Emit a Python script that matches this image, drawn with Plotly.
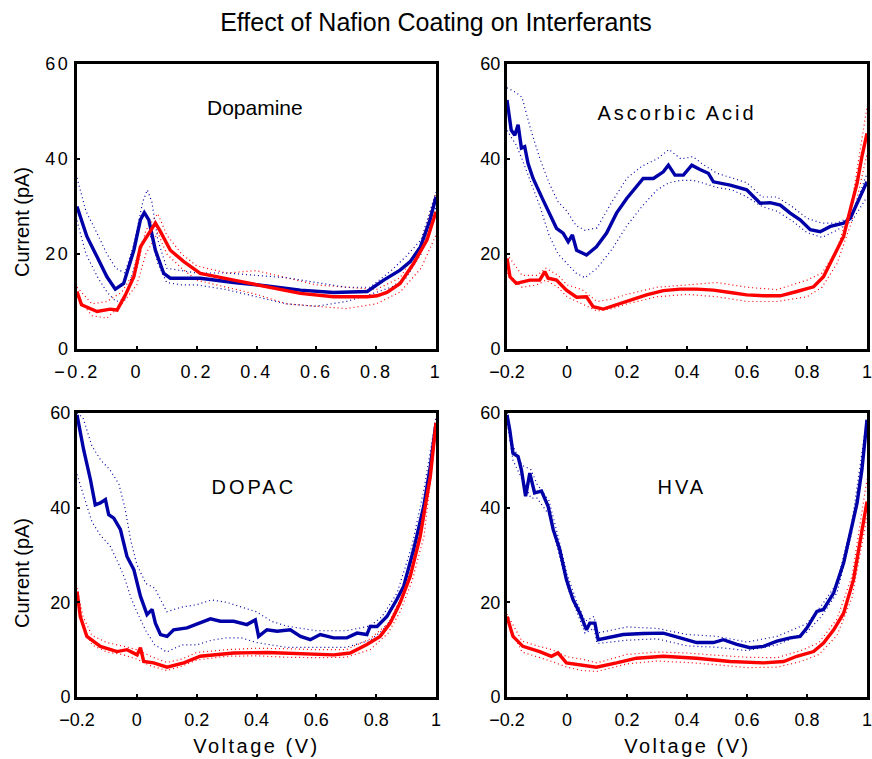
import plotly.graph_objects as go

# ---------------- data ----------------
# Dopamine
da_v_blue = [-0.2, -0.167, -0.133, -0.1, -0.072, -0.044, -0.01, 0.012, 0.025, 0.04, 0.062, 0.09, 0.112,
             0.212, 0.324, 0.435, 0.547, 0.658, 0.77, 0.825, 0.88, 0.914, 0.948, 0.98, 1.0]
da_i_blue = [30, 23.7, 19.4, 15.2, 12.6, 13.8, 20.8, 27.2, 28.7, 27.2, 20.8, 15.9, 14.9,
             14.9, 14.0, 13.3, 12.4, 11.9, 12.1, 14.5, 16.6, 18.4, 21.5, 27.2, 32]
da_v_red = [-0.2, -0.185, -0.133, -0.089, -0.066, -0.038, -0.01, 0.012, 0.034, 0.062, 0.079, 0.112, 0.157,
            0.212, 0.324, 0.435, 0.547, 0.658, 0.77, 0.803, 0.836, 0.88, 0.925, 0.97, 1.0]
da_i_red = [12.1, 9.3, 7.9, 8.4, 8.2, 11.4, 15.2, 21.5, 23.7, 26.5, 24.7, 20.8, 18.4,
            15.9, 14.5, 13.1, 11.7, 11.0, 11.0, 11.2, 11.9, 13.8, 18.0, 23.0, 28.9]
da_env_v_blue = [-0.2, -0.17, -0.13, -0.1, -0.07, -0.04, -0.01, 0.02, 0.035, 0.05, 0.07, 0.1, 0.15, 0.2,
                 0.3, 0.4, 0.5, 0.6, 0.7, 0.78, 0.85, 0.9, 0.95, 1.0]
da_blue_hi = [36, 29, 24, 20, 17, 16, 22, 31, 33.5, 31, 23, 17, 16.5, 16, 16, 15.5, 15, 14, 13, 13, 16.5, 19.5, 23, 33]
da_blue_lo = [27, 20, 15, 12, 10, 10.5, 17, 23, 24, 23.5, 18, 14, 13.5, 13.5, 12.5, 11, 9.5, 9, 10, 11.5, 13, 15, 20, 30]
da_env_v_red = [-0.2, -0.15, -0.1, -0.05, 0.0, 0.03, 0.07, 0.1, 0.15, 0.2, 0.3, 0.4, 0.5, 0.6, 0.7, 0.8,
                0.88, 0.95, 1.0]
da_red_hi = [13, 9.5, 10, 12, 17, 25, 28.5, 24, 20, 17.5, 16, 16.5, 15, 13.5, 13, 12.5, 15, 22, 33]
da_red_lo = [11, 7, 6.5, 9.5, 13.5, 20, 24.5, 20, 17, 14.5, 13, 11.5, 9.5, 9, 8.5, 9.5, 12, 17, 24]

# Ascorbic Acid
aa_v_blue = [-0.2, -0.186, -0.174, -0.163, -0.152, -0.141, -0.13, -0.113, -0.08, -0.058, -0.035, -0.013,
             0.004, 0.018, 0.032, 0.065, 0.098, 0.132, 0.165, 0.199, 0.232, 0.254, 0.288, 0.321, 0.338,
             0.36, 0.388, 0.416, 0.443, 0.471, 0.488, 0.544, 0.599, 0.644, 0.677, 0.711, 0.744, 0.777,
             0.811, 0.844, 0.878, 0.922, 0.944, 0.967, 1.0]
aa_i_blue = [52.4, 46.1, 45.0, 47.2, 42.3, 42.6, 39.1, 35.9, 31.4, 28.6, 25.4, 24.4,
             22.6, 24.0, 20.8, 19.8, 21.5, 24.4, 28.6, 31.7, 34.2, 35.9, 35.9, 37.3, 38.7,
             36.6, 36.6, 38.7, 37.8, 37.0, 35.2, 34.5, 33.5, 30.7, 30.8, 30.3, 28.6, 27.2,
             25.1, 24.7, 25.8, 26.5, 27.5, 30.7, 35.2]
aa_v_red = [-0.2, -0.19, -0.169, -0.124, -0.091, -0.074, -0.063, -0.035, -0.002, 0.032, 0.065, 0.087,
            0.121, 0.165, 0.21, 0.265, 0.321, 0.377, 0.432, 0.488, 0.544, 0.599, 0.655, 0.711, 0.766,
            0.822, 0.855, 0.889, 0.922, 0.944, 0.967, 0.983, 1.0]
aa_i_red = [19.1, 15.2, 13.8, 14.5, 14.5, 16.3, 14.9, 14.5, 12.4, 10.9, 11.0, 8.9,
            8.4, 9.3, 10.3, 11.4, 12.3, 12.6, 12.6, 12.4, 11.9, 11.4, 11.2, 11.2, 12.1,
            13.1, 15.2, 19.4, 23.7, 29.3, 34.9, 40.5, 45.4]
aa_env_v_blue = [-0.2, -0.17, -0.15, -0.12, -0.09, -0.06, -0.03, 0.0, 0.03, 0.06, 0.1, 0.15, 0.2, 0.25,
                 0.3, 0.34, 0.38, 0.42, 0.45, 0.5, 0.55, 0.6, 0.65, 0.7, 0.75, 0.8, 0.85, 0.9, 0.95, 1.0]
aa_blue_hi = [55, 54, 53, 46, 40, 35, 31, 29, 26, 25, 25.5, 31, 36, 38.5, 40, 42, 40, 40.5, 39, 37, 36, 35,
              32, 32, 30, 27.5, 26.5, 26.5, 28, 37]
aa_blue_lo = [46, 43, 40, 35, 30, 24, 20, 18, 16, 15, 17, 21, 26, 30, 33.5, 35, 35.5, 35.5, 35, 34, 33.5, 32,
              30, 29, 27, 24.5, 23.5, 25, 27, 32]
aa_env_v_red = [-0.2, -0.15, -0.1, -0.07, -0.03, 0.0, 0.05, 0.1, 0.15, 0.2, 0.3, 0.4, 0.5, 0.6, 0.7, 0.8,
                0.85, 0.9, 0.95, 1.0]
aa_red_hi = [20, 15.5, 15.5, 17, 15.5, 13.5, 12.5, 10, 10.5, 11.5, 13, 13.5, 14, 13, 12.5, 14.5, 16, 21, 31, 51]
aa_red_lo = [16, 13, 13.5, 14.5, 13, 11, 9.5, 8, 8.5, 9.5, 11, 11.5, 11, 10, 10, 11, 13, 18, 27, 41]

# DOPAC
dp_v_blue = [-0.2, -0.178, -0.155, -0.139, -0.122, -0.105, -0.094, -0.077, -0.055, -0.033, -0.01, 0.012,
             0.034, 0.051, 0.062, 0.079, 0.101, 0.123, 0.168, 0.212, 0.246, 0.279, 0.324, 0.368, 0.396,
             0.407, 0.435, 0.469, 0.513, 0.547, 0.58, 0.613, 0.658, 0.702, 0.736, 0.769, 0.78, 0.803,
             0.836, 0.869, 0.892, 0.925, 0.959, 0.981, 1.0]
dp_i_blue = [59.6, 52.3, 45.9, 40.6, 41.0, 41.7, 38.5, 37.8, 35.4, 29.7, 26.9, 21.3,
             17.4, 18.5, 15.6, 13.2, 12.8, 14.2, 14.6, 15.6, 16.5, 16.0, 16.0, 15.3, 16.3,
             12.8, 14.2, 13.9, 14.2, 12.8, 12.1, 13.2, 12.5, 12.5, 13.5, 13.2, 14.9, 14.9,
             17.0, 20.6, 23.4, 31.1, 40.3, 48.7, 57.9]
dp_v_red = [-0.2, -0.189, -0.167, -0.122, -0.066, -0.033, 0.001, 0.012, 0.023, 0.056, 0.101, 0.157,
            0.212, 0.268, 0.324, 0.435, 0.547, 0.658, 0.713, 0.769, 0.813, 0.847, 0.88, 0.914, 0.947,
            0.981, 1.0]
dp_i_red = [22.3, 17.0, 12.8, 10.7, 9.6, 10.0, 8.9, 10.4, 7.5, 7.2, 6.3, 7.2,
            8.6, 8.9, 9.3, 9.4, 9.1, 8.9, 9.3, 11.1, 12.8, 15.6, 19.9, 25.5, 33.9,
            46.6, 57.9]
dp_env_v_blue = [-0.2, -0.18, -0.15, -0.12, -0.09, -0.06, -0.04, -0.02, 0.0, 0.03, 0.06, 0.1, 0.15, 0.2,
                 0.25, 0.3, 0.35, 0.4, 0.45, 0.5, 0.55, 0.6, 0.7, 0.78, 0.82, 0.87, 0.92, 0.96, 1.0]
dp_blue_hi = [60, 59, 53, 50, 48, 45, 40, 33, 28, 24, 23, 18, 19, 19.5, 20.5, 20, 19, 18, 16, 15, 14.5, 14,
              14, 15, 17, 22, 32, 44, 59]
dp_blue_lo = [47, 43, 37, 34, 32, 28, 25, 21, 18, 14, 11, 9.5, 11, 11, 12, 12.5, 12.5, 11.5, 11, 10.5, 10.5,
              10.5, 10.5, 12, 14, 18, 27, 38, 56]
dp_env_v_red = [-0.2, -0.18, -0.15, -0.1, -0.05, 0.0, 0.05, 0.1, 0.15, 0.2, 0.3, 0.4, 0.5, 0.6, 0.7, 0.78,
                0.84, 0.88, 0.92, 0.96, 1.0]
dp_red_hi = [23, 17, 13, 11.5, 10.8, 10, 8.5, 7.3, 8, 9.4, 10, 10.3, 10.2, 10, 10, 12.3, 15.5, 20.5, 27.5, 38, 59]
dp_red_lo = [21, 15, 11, 9.5, 9, 8, 6.5, 5.6, 6.5, 7.8, 8.6, 8.7, 8.4, 8.3, 8.4, 10, 13.5, 18, 24.5, 34, 56]

# HVA
hv_v_blue = [-0.2, -0.191, -0.18, -0.163, -0.152, -0.138, -0.124, -0.108, -0.085, -0.063, -0.046, -0.024,
             -0.002, 0.02, 0.043, 0.065, 0.076, 0.093, 0.104, 0.132, 0.187, 0.254, 0.321, 0.377, 0.432,
             0.488, 0.521, 0.566, 0.61, 0.655, 0.7, 0.744, 0.777, 0.8, 0.833, 0.855, 0.889, 0.922,
             0.944, 0.967, 0.983, 1.0]
hv_i_blue = [59.6, 56.5, 51.5, 50.8, 48.0, 42.4, 47.3, 43.1, 43.5, 40.3, 35.4, 31.1,
             24.8, 20.6, 17.7, 14.2, 15.6, 15.6, 12.1, 12.5, 13.2, 13.4, 13.5, 12.5, 11.5,
             11.5, 12.1, 11.1, 10.4, 10.7, 11.8, 12.5, 12.8, 14.6, 18.1, 18.5, 22.0, 28.3,
             34.6, 41.0, 48.0, 58.6]
hv_v_red = [-0.2, -0.18, -0.147, -0.091, -0.052, -0.03, -0.002, 0.043, 0.098, 0.165, 0.232, 0.321,
            0.432, 0.544, 0.655, 0.722, 0.766, 0.822, 0.855, 0.889, 0.922, 0.955, 0.978, 1.0]
hv_i_red = [17.0, 12.8, 10.7, 9.6, 8.6, 9.3, 7.2, 6.8, 6.3, 7.2, 8.2, 8.6,
            8.2, 7.5, 7.2, 7.5, 8.6, 9.6, 11.4, 14.2, 17.7, 24.8, 33.2, 41.3]
hv_env_v_blue = [-0.2, -0.18, -0.15, -0.12, -0.1, -0.06, -0.03, 0.0, 0.03, 0.06, 0.09, 0.1, 0.2, 0.3, 0.4,
                 0.5, 0.6, 0.7, 0.8, 0.85, 0.9, 0.95, 1.0]
hv_blue_hi = [60, 53, 49, 48, 45, 41.5, 34, 26, 20.5, 16, 17, 13.5, 14.8, 14.5, 13.2, 12.8, 11.6, 12.8, 15.5,
              19.5, 24, 37, 59]
hv_blue_lo = [58.5, 50, 46, 42, 42, 38.5, 31, 23.5, 18.5, 13.5, 14.5, 11.3, 12, 12.3, 10.8, 10.5, 9.8, 11,
              13.7, 17.2, 22, 35, 58]
hv_env_v_red = [-0.2, -0.15, -0.1, -0.05, 0.0, 0.05, 0.1, 0.2, 0.3, 0.4, 0.5, 0.6, 0.7, 0.78, 0.84, 0.9,
                0.95, 1.0]
hv_red_hi = [17.5, 11.8, 10.8, 10, 8.5, 8, 7.2, 9, 9.5, 9.3, 8.8, 8.4, 8.3, 9.8, 11.5, 16.5, 25.5, 46]
hv_red_lo = [16, 9.5, 8.5, 7.5, 6.3, 5.6, 5.4, 7, 7.6, 7.3, 6.8, 6.2, 6.3, 7.5, 9, 13, 21, 38]

panel_names = ["Dopamine", "Ascorbic Acid", "DOPAC", "HVA"]
x_ticks = [-0.2, 0, 0.2, 0.4, 0.6, 0.8, 1]
x_tick_text = ["\u22120.2", "0", "0.2", "0.4", "0.6", "0.8", "1"]
y_ticks = [0, 20, 40, 60]
x_title = "Voltage (V)"
y_title = "Current (pA)"
main_title = "Effect of Nafion Coating on Interferants"

panels = [
    (da_v_blue, da_i_blue, da_v_red, da_i_red, da_env_v_blue, da_blue_hi, da_blue_lo, da_env_v_red, da_red_hi, da_red_lo),
    (aa_v_blue, aa_i_blue, aa_v_red, aa_i_red, aa_env_v_blue, aa_blue_hi, aa_blue_lo, aa_env_v_red, aa_red_hi, aa_red_lo),
    (dp_v_blue, dp_i_blue, dp_v_red, dp_i_red, dp_env_v_blue, dp_blue_hi, dp_blue_lo, dp_env_v_red, dp_red_hi, dp_red_lo),
    (hv_v_blue, hv_i_blue, hv_v_red, hv_i_red, hv_env_v_blue, hv_blue_hi, hv_blue_lo, hv_env_v_red, hv_red_hi, hv_red_lo),
]

# ---------------- styling ----------------
BLUE = "#0000a8"
RED = "#ff0000"
W, H = 872, 759
FONT = "Liberation Sans, Arial, sans-serif"

x_domains = [[77 / W, 436 / W], [507 / W, 867 / W], [77 / W, 436 / W], [507 / W, 867 / W]]
y_domains = [[1 - 349 / H, 1 - 64 / H], [1 - 349 / H, 1 - 64 / H], [1 - 697 / H, 1 - 413 / H], [1 - 697 / H, 1 - 413 / H]]
label_pos = [(0.395, 50.9), (0.367, 49.7), (0.392, 44.4), (0.383, 44.4)]
label_size = [21, 20, 20, 20]

fig = go.Figure()
annotations = []
layout = dict(
    width=W, height=H,
    margin=dict(l=0, r=0, t=0, b=0, autoexpand=False),
    paper_bgcolor="white", plot_bgcolor="white",
    showlegend=False,
    font=dict(family=FONT, color="black", size=18),
    title=dict(text=main_title, x=436 / W, xanchor="center",
               y=1 - 22 / H, yanchor="middle", font=dict(size=25, family=FONT, color="black")),
)

for k, p in enumerate(panels):
    vb, ib, vr, ir, evb, bhi, blo, evr, rhi, rlo = p
    ax = "" if k == 0 else str(k + 1)
    xr, yr = "x" + ax, "y" + ax
    dot_b = dict(color=BLUE, width=1.2, dash="1px,3px")
    dot_r = dict(color=RED, width=1.2, dash="1px,3px")
    fig.add_trace(go.Scatter(x=evr, y=rhi, mode="lines", line=dot_r, xaxis=xr, yaxis=yr, hoverinfo="skip"))
    fig.add_trace(go.Scatter(x=evr, y=rlo, mode="lines", line=dot_r, xaxis=xr, yaxis=yr, hoverinfo="skip"))
    fig.add_trace(go.Scatter(x=evb, y=bhi, mode="lines", line=dot_b, xaxis=xr, yaxis=yr, hoverinfo="skip"))
    fig.add_trace(go.Scatter(x=evb, y=blo, mode="lines", line=dot_b, xaxis=xr, yaxis=yr, hoverinfo="skip"))
    fig.add_trace(go.Scatter(x=vb, y=ib, mode="lines", line=dict(color=BLUE, width=3.4), xaxis=xr, yaxis=yr,
                             name="Uncoated"))
    fig.add_trace(go.Scatter(x=vr, y=ir, mode="lines", line=dict(color=RED, width=3.4), xaxis=xr, yaxis=yr,
                             name="Nafion coated"))

    common = dict(showgrid=False, zeroline=False, showline=True, linecolor="black", linewidth=3, mirror=True,
                  ticks="inside", ticklen=3, tickwidth=2, tickcolor="black", automargin=False,
                  ticklabeloverflow="allow",
                  tickfont=dict(size=18, family=FONT, color="black"), fixedrange=True)
    layout["xaxis" + ax] = dict(domain=x_domains[k], range=[-0.2, 1], anchor=yr, tickvals=x_ticks,
                                ticktext=x_tick_text, ticklabelstandoff=4, **common)
    layout["yaxis" + ax] = dict(domain=y_domains[k], range=[0, 60], anchor=xr, tickvals=y_ticks,
                                ticklabelstandoff=0, **common)
    annotations.append(dict(text=panel_names[k], x=label_pos[k][0], y=label_pos[k][1],
                            xref=xr, yref=yr, showarrow=False, xanchor="center", yanchor="middle",
                            font=dict(size=label_size[k], family=FONT, color="black")))

# axis titles (placed as annotations in paper coordinates)
for cx in (256, 687):
    annotations.append(dict(text=x_title, x=cx / W, y=1 - 746 / H, xref="paper", yref="paper",
                            showarrow=False, xanchor="center", yanchor="middle",
                            font=dict(size=20, family=FONT, color="black")))
for cy in (222, 573):
    annotations.append(dict(text=y_title, x=22 / W, y=1 - cy / H, xref="paper", yref="paper",
                            showarrow=False, xanchor="center", yanchor="middle", textangle=-90,
                            font=dict(size=20, family=FONT, color="black")))
layout["annotations"] = annotations

fig.update_layout(**layout)

spacing_js = """
var gd = document.getElementById('{plot_id}');
gd.querySelectorAll('.xtick text, .ytick text').forEach(function(t){ t.style.letterSpacing = '2.5px'; });
gd.querySelectorAll('.annotation-text').forEach(function(t){
  var s = t.textContent;
  if (s === 'Ascorbic Acid' || s === 'DOPAC' || s === 'HVA') { t.style.letterSpacing = '3px'; }
  if (s === 'Voltage (V)') { t.style.letterSpacing = '2.5px'; }
});
"""
fig.write_html("out.html", post_script=spacing_js)
